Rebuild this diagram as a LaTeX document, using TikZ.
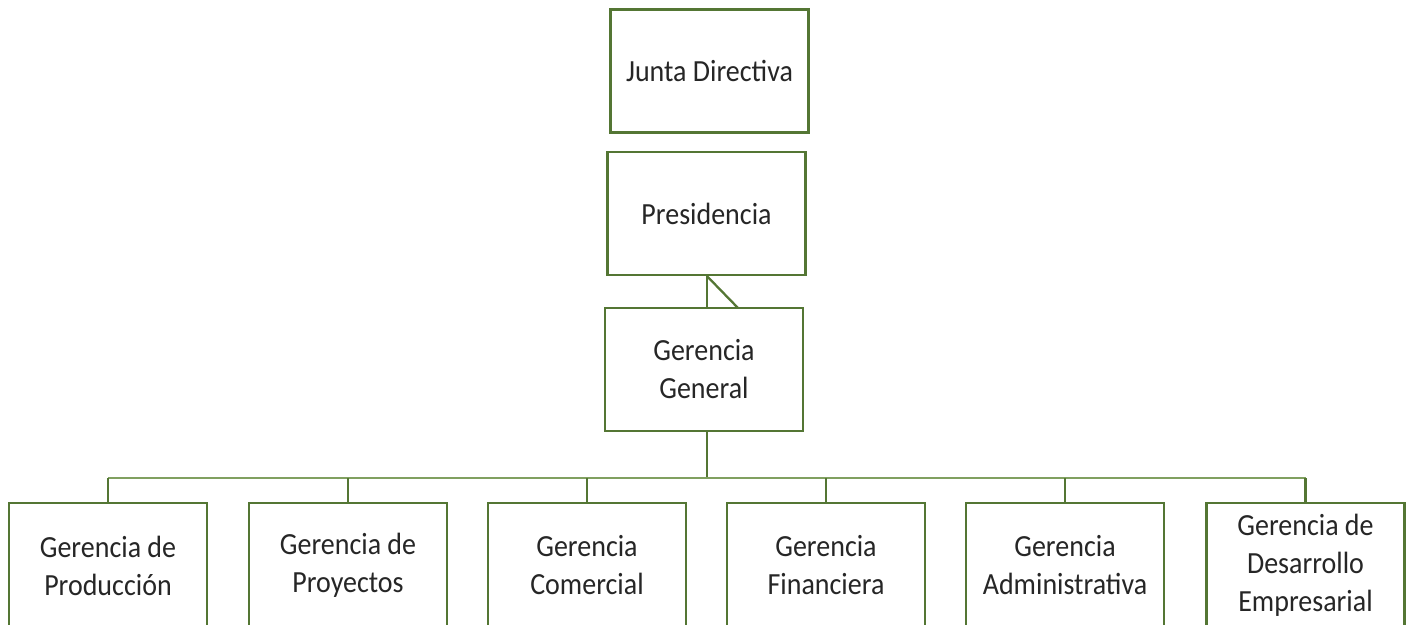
\documentclass[tikz,border=0pt]{standalone}
\usepackage{fontspec}
\setmainfont[FakeStretch=0.91]{Carlito}
\definecolor{boxgreen}{RGB}{84,118,52}
\definecolor{busgreen}{RGB}{128,160,96}

\begin{document}
\begin{tikzpicture}[x=0.02cm, y=-0.02cm,
        unit/.style={draw=boxgreen, line width=1.3pt, fill=white,
            minimum width=3.96cm, minimum height=2.46cm, align=center,
            font=\fontsize{17.5}{21.6}\selectfont, text=black!85},
        link/.style={draw=boxgreen, line width=1.3pt}]
    \useasboundingbox (0, 0) rectangle (1409, 625);
    \clip (0, 0) rectangle (1409, 625);

    \node[unit] (junta) at (709.5, 71) {Junta Directiva};
    \node[unit] (pres) at (706.5, 213.5) {Presidencia};
    \node[unit] (gg) at (704, 369.5) {Gerencia\\General};

    \node[unit, minimum height=2.5cm] (prod) at (108, 565.5) {Gerencia de\\Producción};
    \node[unit, minimum height=2.5cm] (proy) at (348, 565.5) {Gerencia de\\Proyectos};
    \node[unit, minimum height=2.5cm] (com) at (587, 565.5) {Gerencia\\Comercial};
    \node[unit, minimum height=2.5cm] (fin) at (826, 565.5) {Gerencia\\Financiera};
    \node[unit, minimum height=2.5cm] (adm) at (1065, 565.5) {Gerencia\\Administrativa};
    \node[unit, minimum height=2.5cm] (desa) at (1305.5, 565.5) {Gerencia de\\Desarrollo\\Empresarial};

    \coordinate (top) at (707, 0);
    \coordinate (slant) at (738, 308);
    \coordinate (bus) at (707, 478);

    \draw[link] (top |- pres.south) -- (top |- gg.north);
    \draw[link] (top |- pres.south) -- (slant);
    \draw[link] (top |- gg.south) -- (bus);

    \draw[draw=busgreen, line width=1.3pt] (prod.north |- bus) -- (desa.north |- bus);

    \draw[link] (prod.north) -- (prod.north |- bus);
    \draw[link] (proy.north) -- (proy.north |- bus);
    \draw[link] (com.north) -- (com.north |- bus);
    \draw[link] (fin.north) -- (fin.north |- bus);
    \draw[link] (adm.north) -- (adm.north |- bus);
    \draw[link] (desa.north) -- (desa.north |- bus);
\end{tikzpicture}
\end{document}
